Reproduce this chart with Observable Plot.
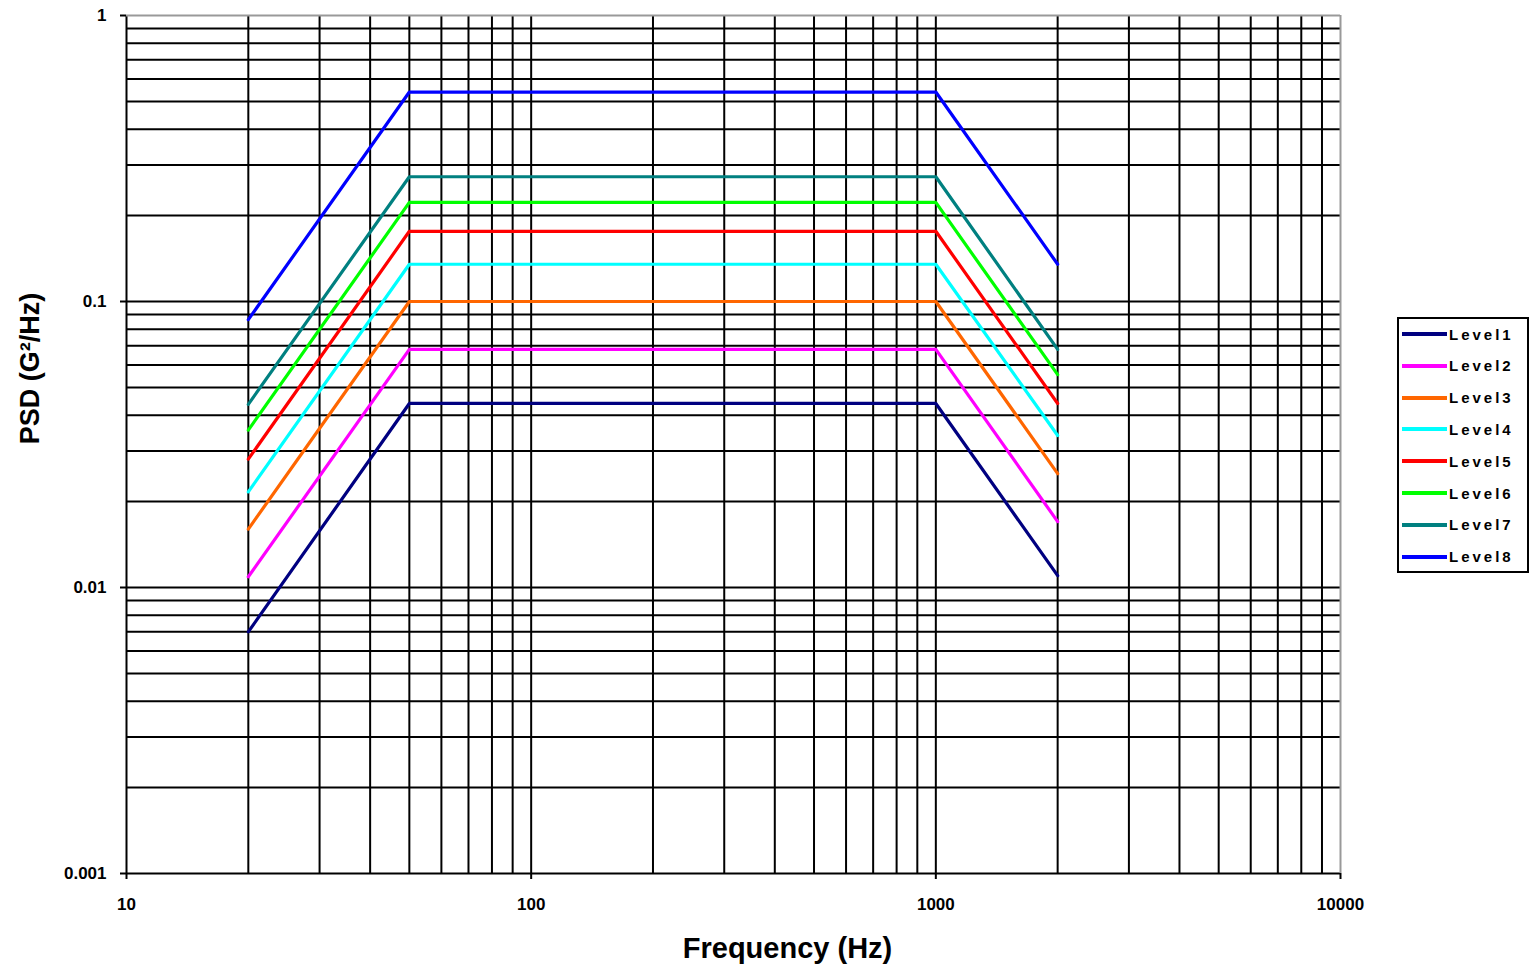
<!DOCTYPE html>
<html>
<head>
<meta charset="utf-8">
<script src="https://cdn.jsdelivr.net/npm/d3@7"></script>
<script src="https://cdn.jsdelivr.net/npm/@observablehq/plot@0.6"></script>
<style>
  html, body { margin: 0; padding: 0; background: #fff; }
  #wrap { position: relative; width: 1531px; height: 967px; }
  #legend { position: absolute; left: 1397px; top: 317px; width: 128px; height: 252px;
    border: 2px solid #000; background: #fff; box-sizing: content-box; }
  .item { position: absolute; left: 0; height: 20px; display: flex; align-items: center; }
  .item span { font-family: "Liberation Sans", Arial, sans-serif; font-weight: bold; font-size: 15px; letter-spacing: 3px; margin-left: 2px; }
</style>
</head>
<body>
<div id="wrap"></div>
<script>
// ---- data ----
const frequencies = [20, 50, 1000, 2000];
const seriesNames = ["Level1", "Level2", "Level3", "Level4", "Level5", "Level6", "Level7", "Level8"];
const seriesColors = ["#000080", "#FF00FF", "#FF6600", "#00FFFF", "#FF0000", "#00FF00", "#008080", "#0000FF"];
const level1 = [0.0070, 0.044, 0.044, 0.011];
const level2 = [0.0109, 0.068, 0.068, 0.017];
const level3 = [0.0160, 0.100, 0.100, 0.025];
const level4 = [0.0216, 0.135, 0.135, 0.034];
const level5 = [0.0281, 0.176, 0.176, 0.044];
const level6 = [0.0355, 0.222, 0.222, 0.0555];
const level7 = [0.0437, 0.273, 0.273, 0.068];
const level8 = [0.0864, 0.540, 0.540, 0.135];
const seriesValues = [level1, level2, level3, level4, level5, level6, level7, level8];
const xTicks = [10, 100, 1000, 10000];
const yTicks = [0.001, 0.01, 0.1, 1];
const yTickLabels = ["0.001", "0.01", "0.1", "1"];
const xTitle = "Frequency (Hz)";
const yTitle = "PSD (G²/Hz)";

const rows = [];
seriesNames.forEach((name, i) => {
  frequencies.forEach((f, j) => rows.push({series: name, f, psd: seriesValues[i][j]}));
});

const xDomain = [10, 10000];
const yDomain = [0.001, 1];
const xGrid = d3.scaleLog().domain(xDomain).ticks().filter(v => v < 10000);
const yGrid = d3.scaleLog().domain(yDomain).ticks().filter(v => v < 1);

const chart = Plot.plot({
  width: 1531,
  height: 967,
  marginLeft: 126,
  marginRight: 191,
  marginTop: 15,
  marginBottom: 94,
  style: {fontFamily: "'Liberation Sans', Arial, sans-serif", fontWeight: "bold", background: "#fff", color: "#000"},
  x: {type: "log", domain: xDomain},
  y: {type: "log", domain: yDomain},
  color: {domain: seriesNames, range: seriesColors},
  marks: [
    Plot.ruleX(xGrid, {stroke: "#000", strokeWidth: 2}),
    Plot.ruleY(yGrid, {stroke: "#000", strokeWidth: 2}),
    Plot.ruleY([1], {stroke: "#999", strokeWidth: 2}),
    Plot.ruleX([10000], {stroke: "#999", strokeWidth: 2}),
    Plot.axisX({ticks: xTicks, tickFormat: d => String(d), tickSize: 6, tickPadding: 18, fontSize: 17, letterSpacing: 2.5, label: null, stroke: "#000", strokeWidth: 2}),
    Plot.axisY({ticks: yTicks, tickFormat: d => yTickLabels[yTicks.indexOf(d)], tickSize: 6, tickPadding: 14, fontSize: 17, letterSpacing: 2.5, label: null, stroke: "#000", strokeWidth: 2}),
    Plot.line(rows, {x: "f", y: "psd", z: "series", stroke: "series", strokeWidth: 3.2, strokeLinejoin: "miter"}),
    Plot.text([xTitle], {frameAnchor: "bottom", textAnchor: "middle", lineAnchor: "middle", dx: 54, dy: 75, fontSize: 29, fontWeight: "bold", letterSpacing: 2, fill: "#000"}),
    Plot.text([yTitle], {frameAnchor: "left", textAnchor: "middle", lineAnchor: "middle", dx: -96, dy: -76, rotate: -90, fontSize: 27, fontWeight: "bold", letterSpacing: 2.5, fill: "#000"})
  ]
});

const wrap = document.getElementById("wrap");
wrap.appendChild(chart);

// legend
const legend = document.createElement("div");
legend.id = "legend";
seriesNames.forEach((name, i) => {
  const item = document.createElement("div");
  item.className = "item";
  item.style.top = (5 + i * 31.8) + "px";
  const sw = document.createElementNS("http://www.w3.org/2000/svg", "svg");
  sw.setAttribute("width", "48");
  sw.setAttribute("height", "20");
  const ln = document.createElementNS("http://www.w3.org/2000/svg", "line");
  ln.setAttribute("x1", "3"); ln.setAttribute("x2", "48");
  ln.setAttribute("y1", "10"); ln.setAttribute("y2", "10");
  ln.setAttribute("stroke", seriesColors[i]);
  ln.setAttribute("stroke-width", "4");
  sw.appendChild(ln);
  const t = document.createElement("span");
  t.textContent = name;
  item.appendChild(sw);
  item.appendChild(t);
  legend.appendChild(item);
});
wrap.appendChild(legend);
</script>
</body>
</html>
